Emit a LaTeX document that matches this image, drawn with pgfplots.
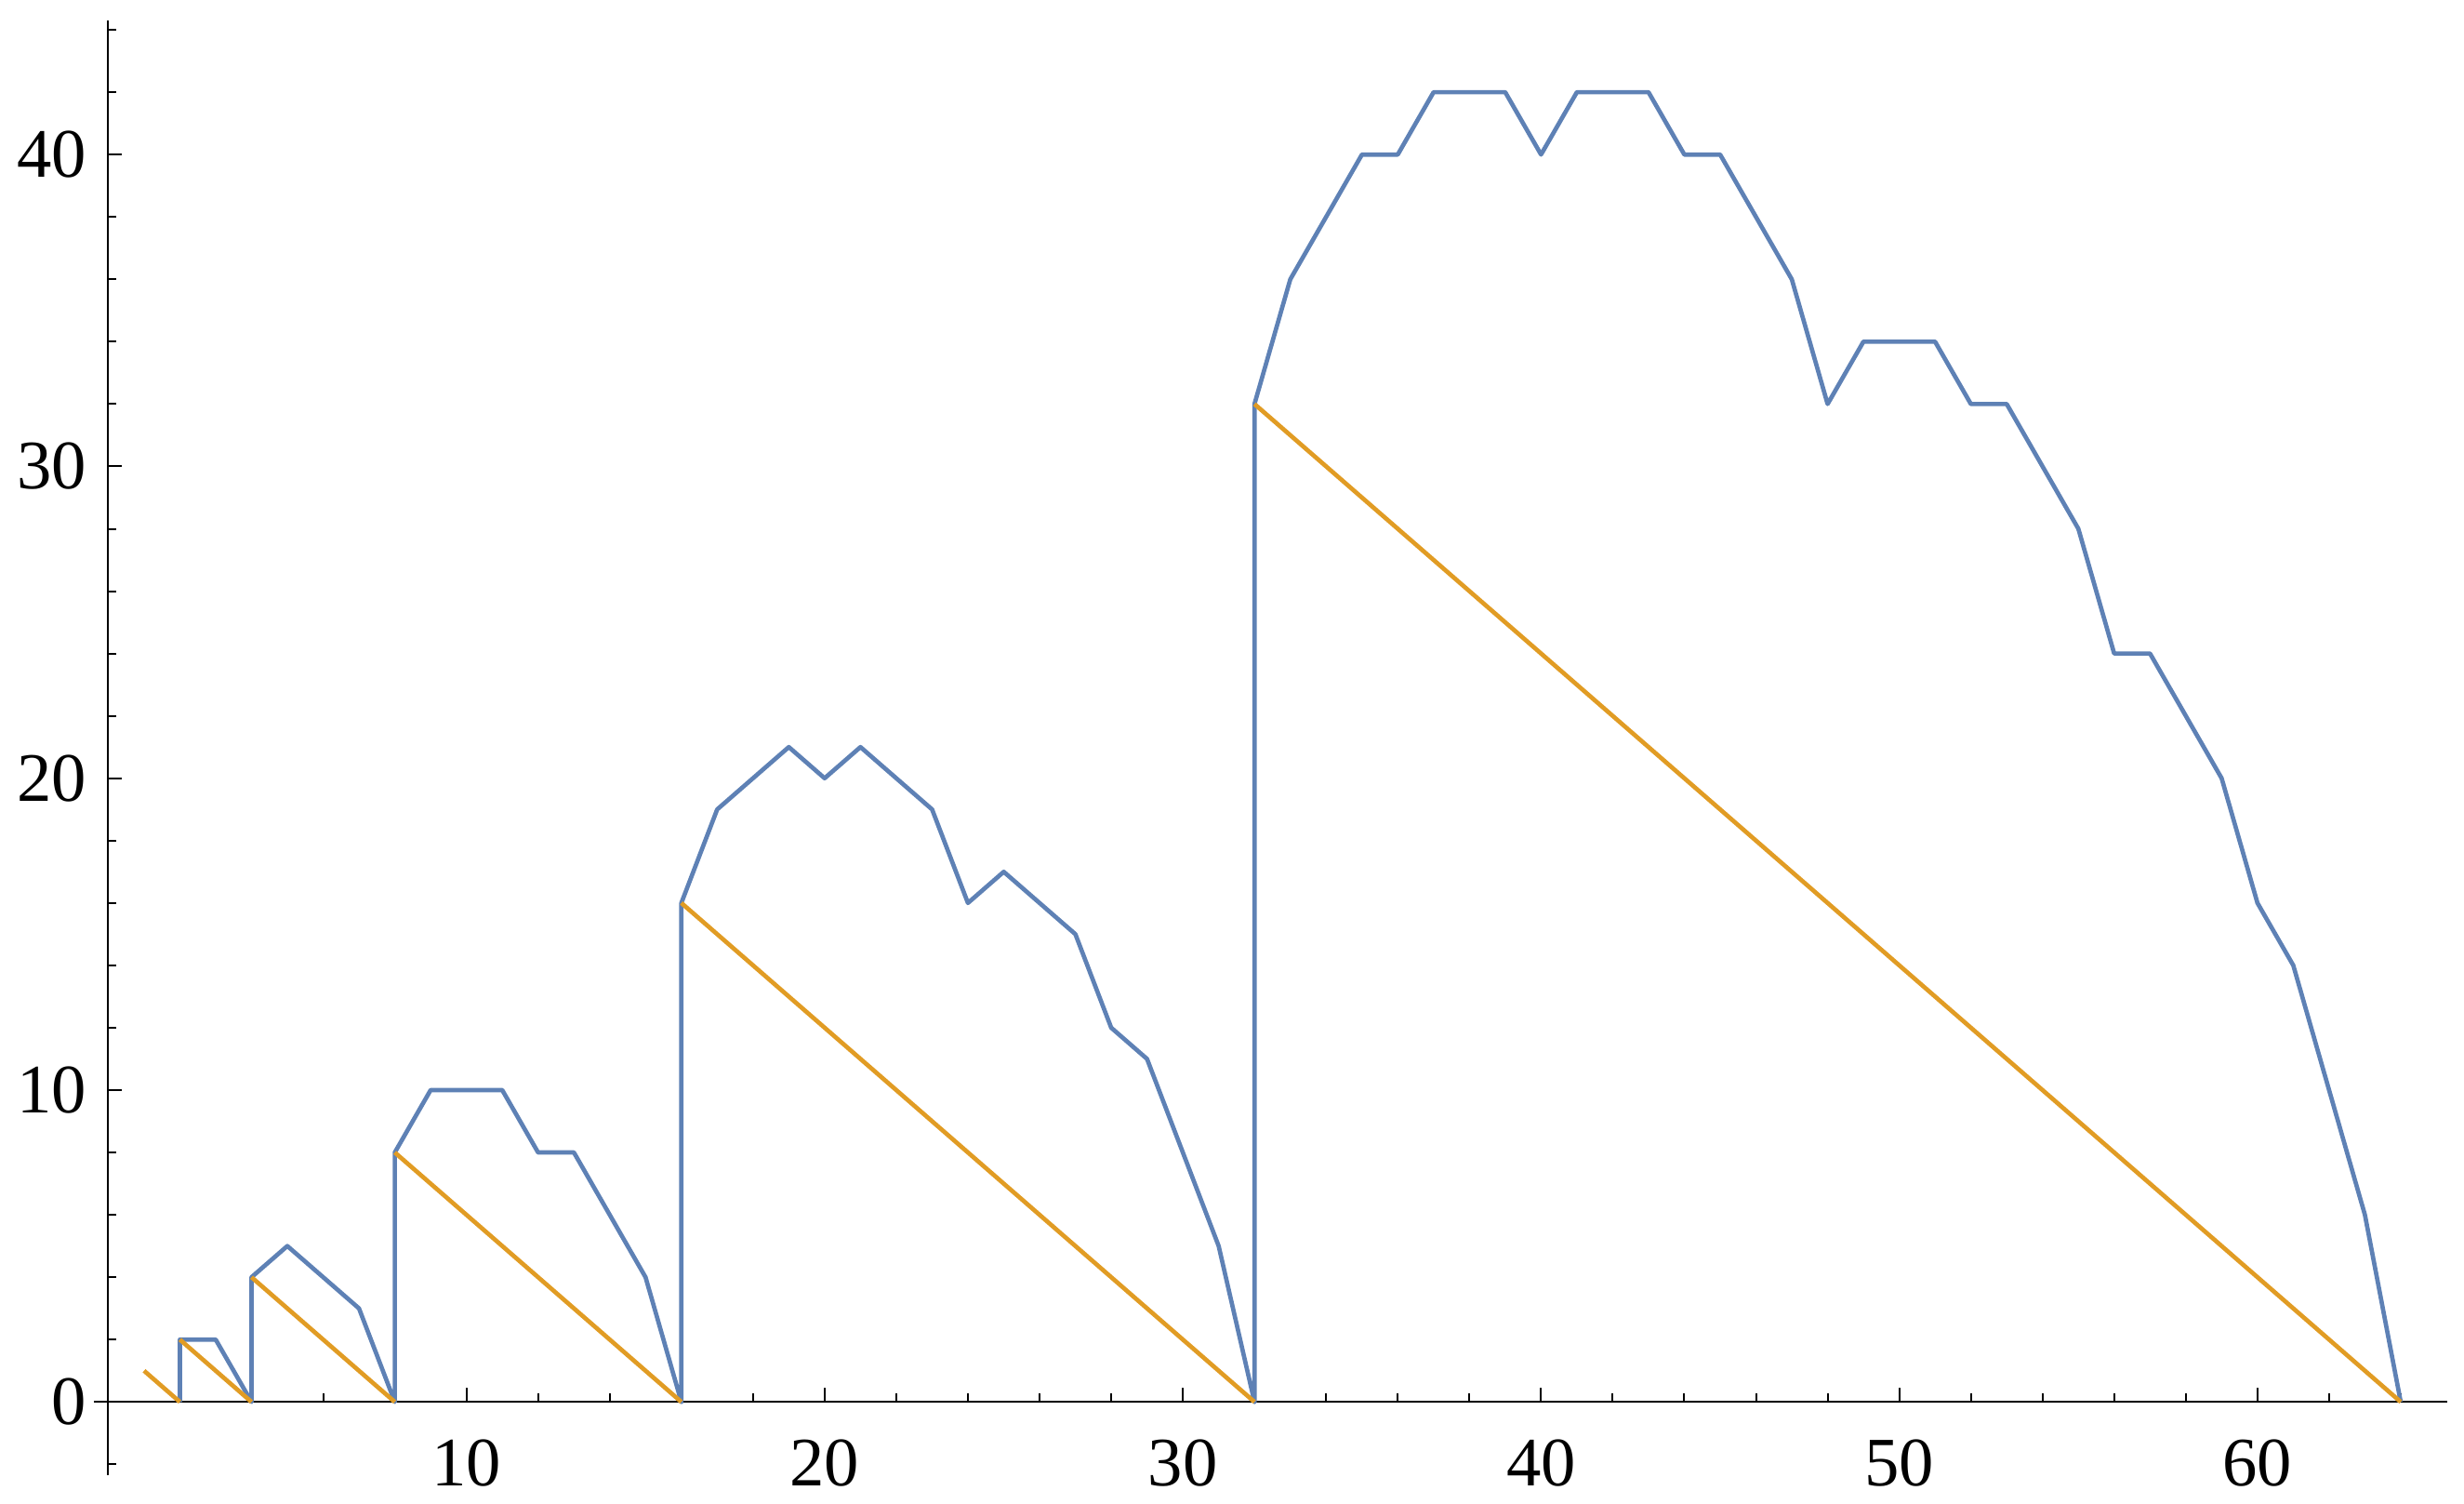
\documentclass[border=0pt]{standalone}
\usepackage{pgfplots}
\pgfplotsset{compat=1.18}
\usepackage{fontspec}
\setmainfont{Liberation Serif}
\definecolor{mblue}{rgb}{0.368417,0.506779,0.709798}
\definecolor{morange}{rgb}{0.880722,0.611041,0.142051}
\begin{document}
\begin{tikzpicture}
\begin{axis}[
 scale only axis, width=379.65pt, height=234.6pt,
 xmin=-0.4, xmax=65.3, ymin=-2.35, ymax=44.3,
 axis lines=middle, axis line style={-, line width=0.3pt, black},
 tick align=inside,
 xtick={10,20,...,60}, minor xtick={2,4,...,64},
 ytick={0,10,...,40}, minor ytick={-2,2,4,...,44},
 major tick length=2.25pt, minor tick length=1.35pt,
 tick style={black, line width=0.3pt},
 hide obscured x ticks=false, hide obscured y ticks=false,
 /pgf/number format/assume math mode=true,
 ticklabel style={font=\fontsize{11.2}{13}\selectfont},
 xticklabel style={yshift=-2.5pt},
 clip=false,
 every axis plot/.append style={line width=0.7pt, line join=round},
]
\coordinate (bl) at (rel axis cs:0,0);
\coordinate (tr) at (rel axis cs:1,1);
\addplot[mblue, no markers] coordinates {
(2,0)(2,2)(3,2)(4,0)(4,4)(5,5)(6,4)(7,3)(8,0)(8,8)(9,10)(10,10)(11,10)(12,8)(13,8)(14,6)(15,4)(16,0)
(16,16)(17,19)(18,20)(19,21)(20,20)(21,21)(22,20)(23,19)(24,16)(25,17)(26,16)(27,15)(28,12)(29,11)(30,8)(31,5)(32,0)
(32,32)(33,36)(34,38)(35,40)(36,40)(37,42)(38,42)(39,42)(40,40)(41,42)(42,42)(43,42)(44,40)(45,40)(46,38)(47,36)(48,32)
(49,34)(50,34)(51,34)(52,32)(53,32)(54,30)(55,28)(56,24)(57,24)(58,22)(59,20)(60,16)(61,14)(62,10)(63,6)(64,0)
};
\addplot[morange, no markers] coordinates {(1,1)(2,0)};
\addplot[morange, no markers] coordinates {(2,2)(4,0)};
\addplot[morange, no markers] coordinates {(4,4)(8,0)};
\addplot[morange, no markers] coordinates {(8,8)(16,0)};
\addplot[morange, no markers] coordinates {(16,16)(32,0)};
\addplot[morange, no markers] coordinates {(32,32)(64,0)};
\end{axis}
\pgfresetboundingbox
\path ([shift={(-15.15pt,-4.5pt)}]bl) rectangle ([shift={(2.7pt,3.3pt)}]tr);
\end{tikzpicture}
\end{document}
